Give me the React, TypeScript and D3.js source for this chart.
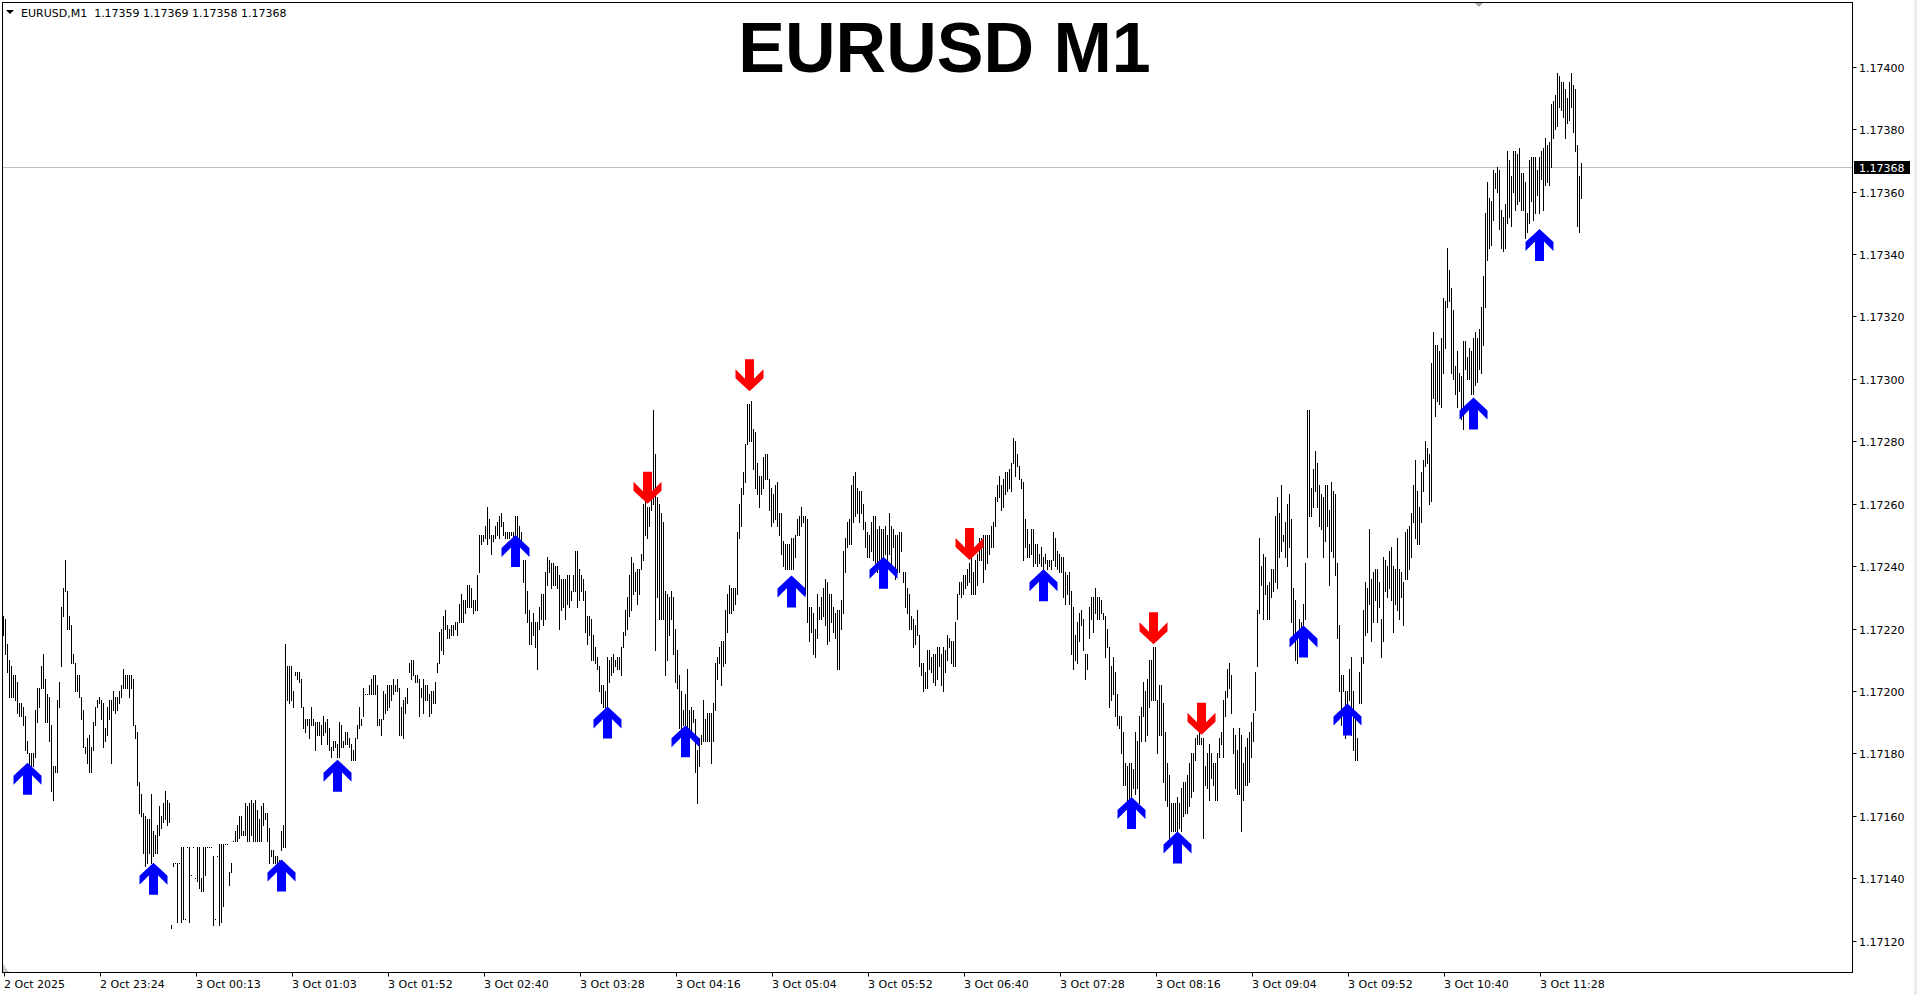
import React from 'react';
import * as d3 from 'd3';

// prices in points above BASE (1 point = 0.00001)
const BASE = 1.171;
const POINT = 0.00001;

const HIGH: number[] = [
124,123,115,110,108,105,105,103,96,96,
95,92,84,80,80,80,94,101,101,108,
112,104,99,98,89,76,76,97,103,127,
133,142,132,124,121,112,109,105,105,98,
94,82,85,86,82,90,95,97,98,97,
96,88,95,97,97,100,98,98,100,102,
107,105,105,105,105,104,89,87,71,67,
61,60,59,59,67,55,54,57,63,60,
64,68,65,64,25,45,45,45,45,50,
50,27,50,50,41,50,40,50,50,40,
50,50,50,50,50,47,27,47,51,51,
51,51,51,42,45,52,55,57,60,60,
55,64,63,64,65,64,65,62,59,63,
64,61,61,56,49,49,47,47,46,55,
57,115,108,108,108,100,106,106,106,
104,95,91,91,91,95,91,90,90,90,
89,92,90,91,88,82,84,84,83,90,
89,84,87,87,85,83,81,85,89,95,
91,101,99,99,102,104,105,105,102,91,
91,100,99,102,102,102,104,102,104,101,
95,97,98,101,109,110,110,105,105,104,
101,104,102,102,99,100,100,103,109,119,
120,124,126,121,120,121,121,122,122,128,
131,129,129,134,134,133,129,129,137,150,
150,150,153,159,155,150,150,153,154,156,
157,154,151,151,151,151,151,156,156,153,
151,142,142,132,126,122,125,122,122,127,
131,131,138,143,142,141,141,140,140,137,
136,136,136,137,137,132,137,145,145,139,
137,136,132,124,124,123,118,114,111,108,
102,102,100,111,110,111,112,110,111,111,
114,119,126,130,137,143,141,138,139,139,
144,160,163,159,159,163,190,176,162,160,
157,154,132,131,130,132,130,120,113,105,
100,94,99,107,94,95,94,91,81,85,
86,97,91,93,93,93,96,109,111,114,
116,116,126,131,134,133,133,133,151,160,
165,170,179,192,192,193,184,183,173,169,
169,175,176,176,168,165,163,166,167,157,
157,148,147,147,147,149,149,150,155,156,
159,156,156,155,127,127,125,120,131,127,
130,133,136,135,131,131,127,125,126,126,
129,145,149,154,155,166,169,170,165,164,
164,160,154,151,150,154,156,156,152,153,
152,152,153,150,157,153,152,150,150,151,
151,138,138,133,131,124,123,121,126,118,
109,109,106,113,113,111,112,112,114,114,
112,114,113,118,117,116,116,122,131,135,
135,137,137,139,141,143,138,142,144,149,
149,150,150,150,150,153,154,162,166,169,
166,168,170,170,171,173,181,180,176,172,
168,167,155,152,147,152,152,147,147,144,
146,143,144,142,142,142,151,149,145,144,
143,143,138,137,138,132,127,118,122,125,
126,123,112,112,127,130,130,133,130,130,
129,125,124,120,114,108,111,106,99,92,
92,87,77,76,77,77,75,87,84,92,
95,103,100,104,110,110,114,114,97,102,
102,96,87,77,73,64,64,64,66,64,
69,71,71,73,77,80,80,85,86,87,
85,85,76,80,83,80,77,77,80,85,
87,97,100,107,109,105,88,86,81,88,
86,77,82,85,87,90,93,106,126,149,
140,144,143,134,135,139,139,156,162,157,
166,150,154,160,163,155,133,129,119,123,
122,128,141,190,190,165,171,177,173,166,
163,162,166,166,158,167,164,163,141,121,
105,105,100,100,107,111,100,92,85,106,
111,126,135,133,152,136,138,139,139,135,
123,143,142,140,145,146,140,139,149,139,
138,135,151,152,153,157,166,174,164,159,
170,174,180,178,176,205,215,211,211,209,
213,226,225,242,235,229,222,204,209,202,
201,212,212,207,210,209,213,215,213,216,
223,233,253,263,258,257,267,266,268,267,
254,252,256,273,270,265,273,273,272,274,
266,266,263,253,270,271,271,271,267,271,
273,274,277,275,276,288,289,291,298,297,
295,295,293,290,295,298,294,293,275,265,269
];

const LOW: number[] = [
118,112,106,98,98,98,97,93,92,92,
89,81,80,76,76,76,79,90,95,101,
101,90,90,84,68,65,74,74,95,108,
124,132,120,120,109,109,100,100,98,91,
82,80,77,74,74,81,89,95,96,91,
82,84,86,91,77,94,93,94,96,98,
101,101,101,98,101,89,85,70,61,60,
48,44,45,48,45,47,48,48,54,56,
58,59,57,58,24,44,45,26,45,26,
27,27,50,26,41,50,40,39,37,36,
36,41,50,50,50,25,27,47,25,26,
31,51,51,38,42,52,52,52,53,54,
54,54,52,52,54,52,52,52,52,52,
57,59,52,45,47,45,45,45,45,49,
50,50,97,96,97,95,105,104,103,
95,88,87,89,85,89,89,81,86,86,
83,86,87,83,81,79,81,82,79,79,
82,82,83,83,82,78,78,78,85,88,
89,92,99,99,99,99,99,99,89,89,
86,91,93,94,95,97,99,100,100,86,
86,85,93,96,106,104,105,103,103,92,
98,93,97,97,92,93,96,96,106,109,
113,112,120,117,117,118,118,120,118,122,
122,122,125,127,127,127,125,126,126,138,
147,148,149,147,149,144,148,149,150,149,
153,150,149,149,149,150,147,150,149,149,
147,135,125,122,115,115,118,114,107,120,
123,121,123,134,138,133,134,134,133,120,
126,127,123,128,127,129,132,132,127,129,
132,129,119,115,118,110,110,109,107,100,
96,95,95,95,103,105,106,108,107,107,
105,114,118,120,124,126,131,132,128,131,
139,142,150,149,153,158,160,113,130,123,
123,123,105,110,118,123,112,103,101,88,
88,89,87,88,83,86,90,74,64,76,
83,84,84,84,84,77,84,94,104,109,
102,108,109,119,125,125,126,128,131,149,
153,163,167,179,180,180,171,165,163,159,
163,165,168,168,158,153,154,155,153,150,
144,140,139,139,139,139,139,143,150,150,
153,154,131,122,116,119,112,111,117,123,
123,124,121,115,116,122,119,117,107,107,
120,125,138,146,147,147,154,156,157,154,
157,152,146,143,143,145,142,141,138,137,
140,142,144,142,144,140,146,136,138,138,
145,135,127,125,120,120,114,115,118,108,
105,100,101,101,107,106,103,102,104,108,
102,100,106,110,114,109,108,108,123,131,
130,131,133,134,135,131,131,131,134,142,
142,135,139,141,144,146,146,153,161,162,
158,159,163,164,165,164,173,169,172,168,
165,142,146,143,143,144,140,141,140,141,
140,139,141,139,140,139,142,140,139,138,
138,130,128,131,128,112,107,110,109,116,
121,113,104,107,117,123,119,125,123,123,
125,123,111,114,95,97,99,92,89,88,
80,70,70,65,65,65,69,67,69,64,
84,92,84,86,95,97,97,97,80,86,
86,71,65,63,53,55,55,55,55,56,
55,60,61,61,63,66,68,78,83,83,
83,53,70,69,65,72,70,65,65,79,
83,79,92,98,101,93,80,69,67,67,
55,65,70,70,71,79,84,94,108,125,
134,123,131,123,123,130,132,135,133,143,
145,148,143,140,146,122,118,110,109,115,
119,121,123,143,156,156,159,164,159,153,
152,143,148,153,134,145,143,137,117,100,
89,100,85,87,97,86,81,78,78,96,
96,109,118,119,128,116,122,129,122,127,
111,116,132,130,133,129,119,128,126,123,
130,121,136,136,139,143,154,149,147,147,
154,164,172,173,160,161,194,188,193,192,
191,202,210,223,225,202,200,195,191,196,
187,184,203,200,200,195,195,198,199,203,
202,211,223,238,242,243,251,261,260,248,
242,241,242,250,252,249,260,254,256,257,
254,254,245,247,250,257,251,253,259,253,
264,254,262,263,262,268,277,280,281,287,
286,284,277,282,283,287,279,273,249,247,258
];

const PRICE_TICKS = [1.1712, 1.1714, 1.1716, 1.1718, 1.172, 1.1722, 1.1724, 1.1726, 1.1728, 1.173, 1.1732, 1.1734, 1.1736, 1.1738, 1.174];

const TIME_LABELS = [
  '2 Oct 2025', '2 Oct 23:24', '3 Oct 00:13', '3 Oct 01:03', '3 Oct 01:52', '3 Oct 02:40',
  '3 Oct 03:28', '3 Oct 04:16', '3 Oct 05:04', '3 Oct 05:52', '3 Oct 06:40', '3 Oct 07:28',
  '3 Oct 08:16', '3 Oct 09:04', '3 Oct 09:52', '3 Oct 10:40', '3 Oct 11:28'
];
const BARS_PER_LABEL = 48;

const UP_IDX = [12, 75, 139, 167, 256, 302, 341, 394, 440, 520, 564, 587, 650, 672, 735, 768];
const UP_TIP = [77, 45, 46, 78, 150, 95, 89, 137, 143, 139, 66, 55, 121, 96, 194, 248];
const DN_IDX = [322, 373, 483, 575, 599];
const DN_TIP = [160, 196, 142, 115, 86];

const SYMBOL = 'EURUSD,M1';
const LAST_OHLC = [1.17359, 1.17369, 1.17358, 1.17368];
const TITLE = 'EURUSD M1';

const FONT = "'DejaVu Sans', Verdana, sans-serif";

const UP_ARROW = 'M0,0 L14,13 L14,22 L4.5,12.5 L4.5,32 L-4.5,32 L-4.5,12.5 L-14,22 L-14,13 Z';
const DN_ARROW = 'M0,0 L14,-13 L14,-22 L4.5,-12.5 L4.5,-32 L-4.5,-32 L-4.5,-12.5 L-14,-22 L-14,-13 Z';

export default function App() {
  const W = 1917, H = 995;
  const plotL = 2.5, plotR = 1852.5, plotT = 2.5, plotB = 972.5;
  const n = HIGH.length;
  const x = d3.scaleLinear().domain([0, n - 1]).range([3.5, 3.5 + 2 * (n - 1)]);
  const y = d3.scaleLinear().domain([1.1712, 1.174]).range([940.7, 66.7]);
  const p = (v: number) => BASE + v * POINT;
  const last = LAST_OHLC[3];
  const yLast = Math.round(y(last)) + 0.5;

  return (
    <div style={{ position: 'fixed', left: 0, top: 0, width: W, height: H, background: '#fff' }}>
      <svg width={W} height={H} style={{ display: 'block' }} fontFamily={FONT}>
        <rect x={0} y={0} width={W} height={H} fill="#fff" />
        <rect x={1914} y={0} width={3} height={H} fill="#ececec" />
        {/* current price line */}
        <line x1={plotL} x2={plotR} y1={yLast} y2={yLast} stroke="#c0c0c0" strokeWidth={1} />
        {/* bars */}
        <g shapeRendering="crispEdges" fill="#000">
          {HIGH.map((h, i) => {
            const yt = Math.round(y(p(h)));
            const yb = Math.round(y(p(LOW[i])));
            return <rect key={i} x={x(i) - 0.5} y={yt} width={1} height={Math.max(1, yb - yt + 1)} />;
          })}
        </g>
        {/* arrows */}
        {UP_IDX.map((bi, k) => (
          <path key={'u' + k} d={UP_ARROW} fill="#0000ff"
            transform={`translate(${x(bi)},${y(p(UP_TIP[k]))})`} />
        ))}
        {DN_IDX.map((bi, k) => (
          <path key={'d' + k} d={DN_ARROW} fill="#ff0000"
            transform={`translate(${x(bi)},${y(p(DN_TIP[k]))})`} />
        ))}
        {/* frame */}
        <rect x={plotL} y={plotT} width={plotR - plotL} height={plotB - plotT} fill="none" stroke="#000" strokeWidth={1} shapeRendering="crispEdges" />
        <path d="M1475,3 L1483,3 L1479,7 Z" fill="#a8a8a8" />
        <path d="M3,964 L3,972 L9,972 Z" fill="#c8c8c8" />
        {/* price axis */}
        {PRICE_TICKS.map((t) => {
          const yy = Math.round(y(t)) + 0.5;
          return (
            <g key={t}>
              <line x1={plotR} x2={plotR + 4} y1={yy} y2={yy} stroke="#000" strokeWidth={1} />
              <text x={1859} y={yy + 4} fontSize={11} fill="#000">{t.toFixed(5)}</text>
            </g>
          );
        })}
        <rect x={1854} y={yLast - 6.5} width={56} height={13} fill="#000" />
        <text x={1859} y={yLast + 4} fontSize={11} fill="#fff">{last.toFixed(5)}</text>
        {/* time axis */}
        {TIME_LABELS.map((lab, k) => {
          const xx = Math.round(x(k * BARS_PER_LABEL)) + 0.5;
          return (
            <g key={lab}>
              <line x1={xx} x2={xx} y1={plotB} y2={plotB + 4} stroke="#000" strokeWidth={1} />
              <text x={xx - 0.5} y={988} fontSize={11} fill="#000">{lab}</text>
            </g>
          );
        })}
        {/* header */}
        <path d="M6,10 L14,10 L10,14 Z" fill="#000" />
        <text x={21} y={16.5} fontSize={11} fill="#000" style={{ whiteSpace: 'pre' }}>
          {SYMBOL + '  ' + LAST_OHLC.map((v) => v.toFixed(5)).join(' ')}
        </text>
        <text x={944.5} y={72} fontSize={70} fontWeight="bold" textAnchor="middle"
          fontFamily="'Liberation Sans', Arial, sans-serif" fill="#000">{TITLE}</text>
      </svg>
    </div>
  );
}
